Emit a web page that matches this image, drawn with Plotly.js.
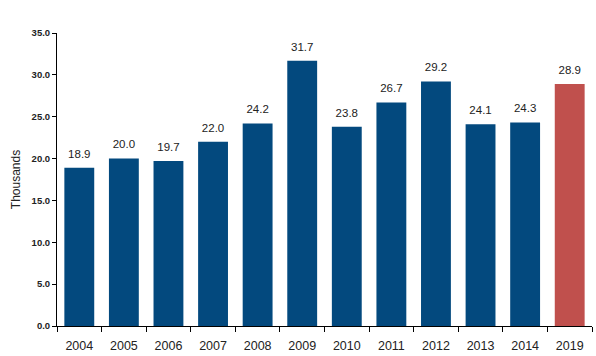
<!DOCTYPE html>
<html><head><meta charset="utf-8">
<script src="https://cdn.plot.ly/plotly-3.0.1.min.js"></script>
<style>body{margin:0;padding:0;background:#fff}#chart{width:596px;height:356px}</style>
</head><body><div id="chart"></div>
<script>
const years = ['2004','2005','2006','2007','2008','2009','2010','2011','2012','2013','2014','2019'];
const values = [18.9, 20.0, 19.7, 22.0, 24.2, 31.7, 23.8, 26.7, 29.2, 24.1, 24.3, 28.9];
const yTicks = [0, 5, 10, 15, 20, 25, 30, 35];
const navy = '#03497E', red = '#C0504D';
const colors = years.map((y) => y === '2019' ? red : navy);

const bars = {
  type: 'bar', x: years, y: values,
  marker: {color: colors},
  hoverinfo: 'none'
};
const labels = {
  type: 'scatter', mode: 'markers+text', x: years, y: values,
  marker: {size: 10, color: 'rgba(0,0,0,0)'},
  text: values.map(v => v.toFixed(1)),
  textposition: 'top center', cliponaxis: false,
  textfont: {family: 'Liberation Sans, Arial, sans-serif', size: 11.5, color: '#222'},
  hoverinfo: 'none'
};
const layout = {
  width: 596, height: 356,
  margin: {l: 57, r: 4, t: 33, b: 30},
  paper_bgcolor: '#fff', plot_bgcolor: '#fff',
  bargap: 0.33, showlegend: false,
  xaxis: {
    type: 'category', range: [-0.5, years.length - 0.5],
    showline: true, linecolor: '#000', linewidth: 1,
    ticks: 'outside', tickson: 'boundaries', ticklen: 5, tickcolor: '#000',
    ticklabelstandoff: 8,
    showgrid: false, zeroline: false,
    tickfont: {family: 'Liberation Sans, Arial, sans-serif', size: 12.5, color: '#222'}
  },
  yaxis: {
    range: [0, 35], tickvals: yTicks, ticktext: yTicks.map(v => '<b>' + v.toFixed(1) + '</b>'),
    showline: true, linecolor: '#000', linewidth: 1,
    ticks: 'outside', ticklen: 4, tickcolor: '#000',
    showgrid: false, zeroline: false,
    tickfont: {family: 'Liberation Sans Narrow, Liberation Sans, Arial, sans-serif', size: 9.5, color: '#222'},
    title: {text: 'Thousands', standoff: 8, font: {family: 'Liberation Sans, Arial, sans-serif', size: 12, color: '#222'}}
  }
};
Plotly.newPlot('chart', [bars, labels], layout, {displayModeBar: false, staticPlot: true});
</script></body></html>
